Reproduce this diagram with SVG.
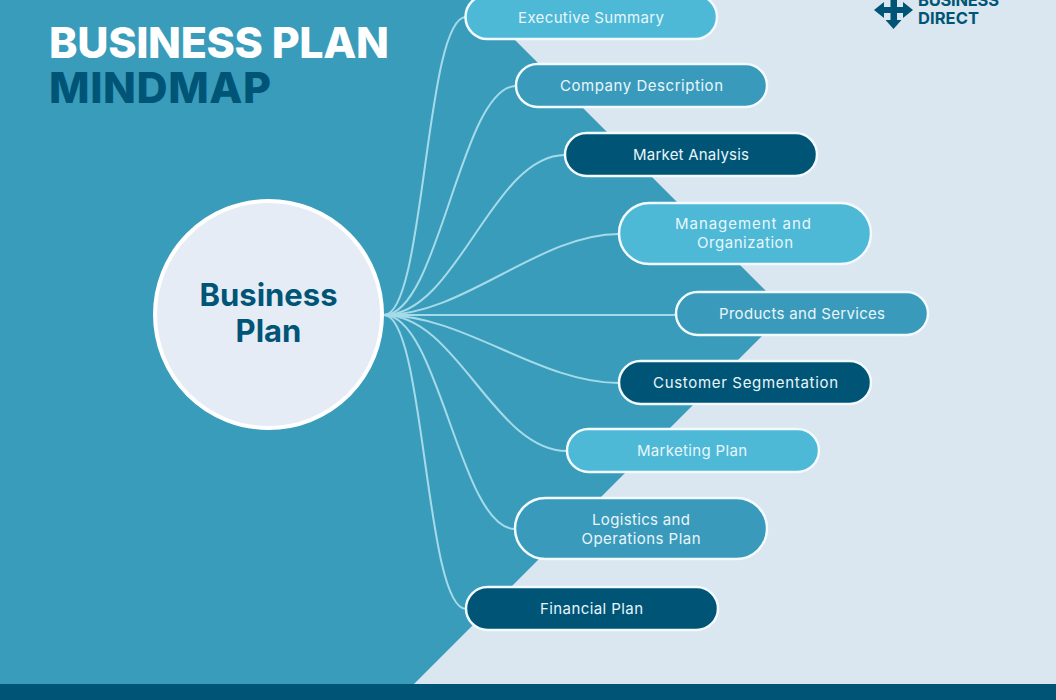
<svg xmlns="http://www.w3.org/2000/svg" width="1056" height="700" viewBox="0 0 1056 700">
<style>
text{font-family:"Inter","Open Sans","Liberation Sans",sans-serif}
.t{font-size:15px;fill:#e8f6fb;text-anchor:middle}
.p{stroke:#f2fafd;stroke-width:2.5}
.a{fill:#4db9d6}.b{fill:#3a9abb}.c{fill:#005577}
.h{font-size:43px;font-weight:800}
.l{font-size:16.500px;font-weight:700;fill:#005577}
.n{font-size:31px;font-weight:700;fill:#005577;text-anchor:middle}
#connectors path{fill:none;stroke:#a5dbe9;stroke-width:2}
</style>
<rect width="1056" height="700" fill="#dae6f0"/>
<polygon points="0,0 475,0 786.500,311.500 414,684 0,684" fill="#3a9cbb"/>
<rect y="684" width="1056" height="16" fill="#005577"/>
<text class="h" x="49" y="58" fill="#fff" textLength="340">BUSINESS PLAN</text>
<text class="h" x="49" y="103" fill="#005577" textLength="222">MINDMAP</text>
<g id="logo">
<path d="M890.500,-2H897V7H903V2L913,10L903,18V13H897V20H901.500L893.500,29L885.500,20H890.500V13H884V18L874,10L884,2V7H890.500Z" fill="#005577"/>
<text class="l" x="918" y="6" textLength="81">BUSINESS</text>
<text class="l" x="918" y="24" textLength="61">DIRECT</text>
</g>
<g id="connectors">
<path d="M384,315C425,315 425,17 466,17"/>
<path d="M384,315C439,315 461,86 516,86"/>
<path d="M384,315C457,315 492,155 565,155"/>
<path d="M384,315C464,315 539,234 619,234"/>
<path d="M384,315H676"/>
<path d="M384,315C464,315 539,383 619,383"/>
<path d="M384,315C457,315 494,451 567,451"/>
<path d="M384,315C439,315 460,529 515,529"/>
<path d="M384,315C425,315 425,609 466,609"/>
</g>
<g id="center"><circle cx="268.500" cy="314.500" r="113.500" fill="#e6ecf6" stroke="#fff" stroke-width="4"/>
<text class="n" x="268.500" y="306">Business</text><text class="n" x="268.500" y="342">Plan</text></g>
<g id="n1"><rect class="p a" x="465.500" y="-5" width="251.500" height="44" rx="22"/><text class="t" x="591" y="23" textLength="146">Executive Summary</text></g>
<g id="n2"><rect class="p b" x="516" y="64" width="251" height="43" rx="21.500"/><text class="t" x="641.500" y="91" textLength="163">Company Description</text></g>
<g id="n3"><rect class="p c" x="565" y="133" width="252" height="43" rx="21.500"/><text class="t" x="691" y="160" textLength="116">Market Analysis</text></g>
<g id="n4"><rect class="p a" x="619" y="203" width="252" height="61" rx="30.500"/><text class="t" x="743" y="229" textLength="136">Management and</text><text class="t" x="745" y="248" textLength="96">Organization</text></g>
<g id="n5"><rect class="p b" x="676" y="292" width="252" height="43" rx="21.500"/><text class="t" x="802" y="319" textLength="166">Products and Services</text></g>
<g id="n6"><rect class="p c" x="619" y="361" width="252" height="43" rx="21.500"/><text class="t" x="745.500" y="388" textLength="185">Customer Segmentation</text></g>
<g id="n7"><rect class="p a" x="567" y="429" width="252" height="43" rx="21.500"/><text class="t" x="692" y="456" textLength="110">Marketing Plan</text></g>
<g id="n8"><rect class="p b" x="515" y="498" width="252" height="61" rx="30.500"/><text class="t" x="641" y="525" textLength="98">Logistics and</text><text class="t" x="641" y="544" textLength="119">Operations Plan</text></g>
<g id="n9"><rect class="p c" x="466" y="587" width="252" height="43" rx="21.500"/><text class="t" x="591.500" y="614" textLength="103">Financial Plan</text></g>
</svg>
